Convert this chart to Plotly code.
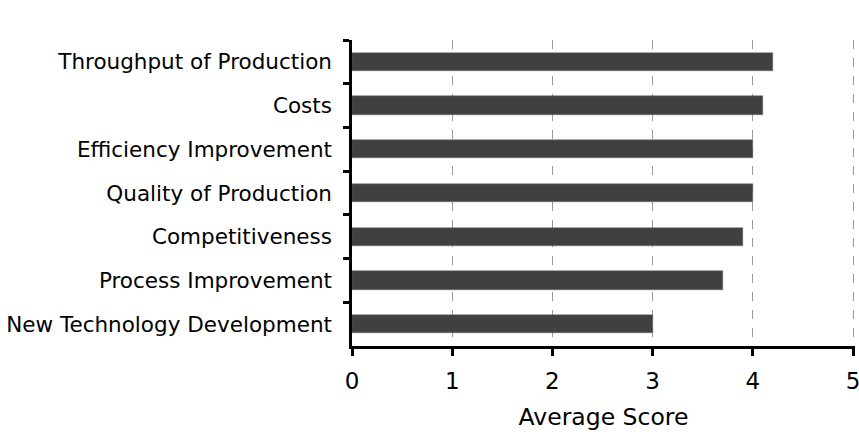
import plotly.graph_objects as go

categories = ["Throughput of Production", "Costs", "Efficiency Improvement",
              "Quality of Production", "Competitiveness", "Process Improvement",
              "New Technology Development"]
scores = [4.2, 4.1, 4.0, 4.0, 3.9, 3.7, 3.0]
x_ticks = [0, 1, 2, 3, 4, 5]

font = "DejaVu Sans"

fig = go.Figure(go.Bar(
    y=categories, x=scores, orientation="h",
    marker=dict(color="#404040", line=dict(color="#6a6a6a", width=0.5)),
    width=0.42,
))

fig.update_layout(
    width=859, height=437,
    margin=dict(l=352, r=4, t=40, b=91, autoexpand=False),
    paper_bgcolor="white", plot_bgcolor="white",
    font=dict(family=font, size=21.5, color="black"),
    showlegend=False,
    bargap=0,
)
fig.update_xaxes(
    range=[0, 5.02], tickvals=x_ticks, ticktext=[str(v) for v in x_ticks],
    showline=True, linecolor="black", linewidth=2.5,
    ticks="outside", ticklen=7, tickwidth=2.5, tickcolor="black",
    showgrid=True, gridcolor="#999999", griddash="dash", gridwidth=1.2,
    zeroline=False, tickfont=dict(size=23), automargin=False,
    ticklabeloverflow="allow",
    title=dict(text="Average Score", font=dict(size=23.5), standoff=16),
    ticklabelstandoff=6,
)
fig.update_yaxes(
    autorange="reversed", type="category", automargin=False,
    showline=True, linecolor="black", linewidth=2.5,
    ticks="outside", ticklen=6, tickwidth=2.5, tickcolor="black",
    tickson="boundaries", showgrid=False,
    ticklabelstandoff=13,
)

fig.write_html("out.html", config={"displayModeBar": False},
               post_script="document.body.style.margin='0';document.body.style.overflow='hidden';")
